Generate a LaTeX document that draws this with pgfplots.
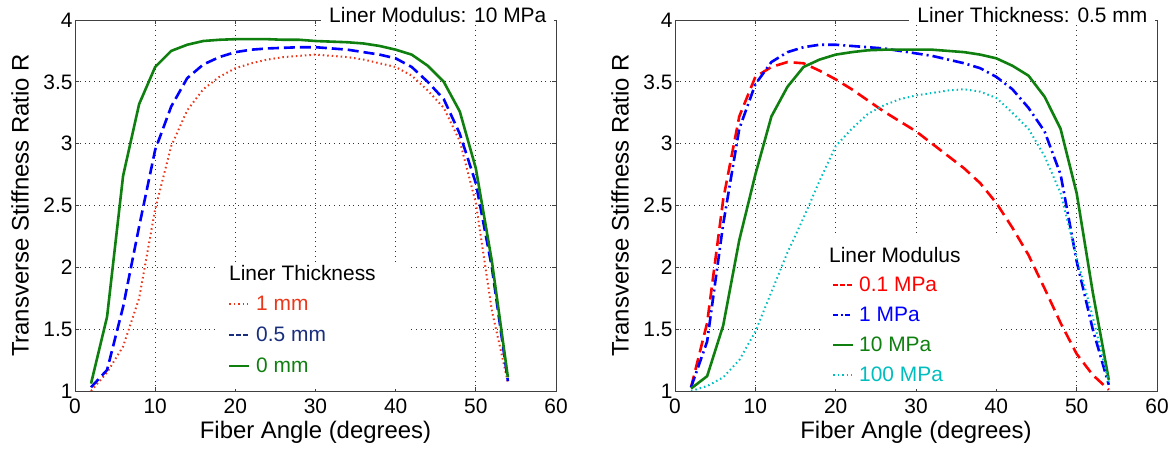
\documentclass[border=0pt]{standalone}
\usepackage{pgfplots}
\pgfplotsset{compat=1.18}
\usepackage{fontspec}
\setmainfont{Liberation Sans}
\definecolor{lred}{RGB}{235,55,25}
\definecolor{lnavy}{RGB}{25,45,125}
\definecolor{mgreen}{RGB}{15,128,15}
\definecolor{mblue}{RGB}{0,0,255}
\definecolor{mcyan}{RGB}{0,190,190}
\definecolor{pred}{RGB}{255,0,0}
\pgfplotsset{
  myaxis/.style={
    scale only axis, width=481bp, height=371bp,
    xmin=0, xmax=60, ymin=1, ymax=4,
    xtick={0,10,20,30,40,50,60}, ytick={1,1.5,2,2.5,3,3.5,4},
    grid=major,
    major grid style={black!80, line width=0.7bp, dash pattern=on 0.8bp off 4bp},
    axis line style={black!75, line width=0.9bp},
    tick align=inside, major tick length=4bp,
    tick style={black!75, line width=0.8bp},
    tick label style={font=\fontsize{21}{25}\selectfont},
    /pgf/number format/assume math mode=true,
    xticklabel style={yshift=-4.5bp},
    yticklabel style={xshift=1bp},
    label style={font=\fontsize{24}{28}\selectfont},
    xlabel={Fiber Angle (degrees)},
    ylabel={Transverse Stiffness Ratio R},
    xlabel style={at={(axis description cs:0.5,-0.1105)}, anchor=center},
    ylabel style={at={(axis description cs:-0.114,0.5)}, anchor=center},
  }
}
\begin{document}
\begin{tikzpicture}
\useasboundingbox (0,0) rectangle (1171bp,449bp);
% ---------------- Left panel ----------------
\begin{axis}[myaxis, at={(75bp,58bp)}, anchor=south west]
\addplot[lred, line width=2bp, dash pattern=on 1.5bp off 3bp] coordinates {
(2,1.00)(4,1.15)(6,1.36)(8,1.75)(10,2.47)(12,2.98)(14,3.27)(16,3.44)(18,3.54)(20,3.61)
(22,3.65)(24,3.68)(26,3.70)(28,3.71)(30,3.72)(32,3.71)(34,3.70)(36,3.68)(38,3.65)(40,3.62)
(42,3.55)(44,3.43)(46,3.29)(48,3.02)(50,2.52)(52,1.65)(54,1.07)};
\addplot[mblue, line width=2.6bp, dash pattern=on 11bp off 5bp] coordinates {
(2,1.03)(4,1.17)(6,1.68)(8,2.33)(10,2.95)(12,3.30)(14,3.53)(16,3.64)(18,3.70)(20,3.74)
(22,3.76)(24,3.77)(26,3.775)(28,3.78)(30,3.78)(32,3.77)(34,3.76)(36,3.74)(38,3.72)(40,3.69)
(42,3.62)(44,3.50)(46,3.36)(48,3.08)(50,2.68)(52,2.00)(54,1.08)};
\addplot[mgreen, line width=2.6bp] coordinates {
(2,1.06)(4,1.60)(6,2.74)(8,3.32)(10,3.62)(12,3.75)(14,3.80)(16,3.83)(18,3.84)(20,3.845)
(22,3.845)(24,3.845)(26,3.84)(28,3.84)(30,3.83)(32,3.825)(34,3.82)(36,3.81)(38,3.79)(40,3.76)
(42,3.72)(44,3.63)(46,3.50)(48,3.26)(50,2.80)(52,2.05)(54,1.11)};
\end{axis}
% ---------------- Right panel ----------------
\begin{axis}[myaxis, at={(675bp,58bp)}, anchor=south west, width=482bp]
\addplot[pred, line width=2.6bp, dash pattern=on 12bp off 6bp] coordinates {
(2,1.03)(4,1.55)(6,2.55)(8,3.22)(10,3.54)(12,3.62)(14,3.66)(16,3.65)(18,3.59)(20,3.52)
(22,3.44)(24,3.35)(26,3.26)(28,3.18)(30,3.10)(32,3.00)(34,2.90)(36,2.80)(38,2.68)(40,2.52)
(42,2.32)(44,2.10)(46,1.83)(48,1.55)(50,1.30)(52,1.13)(54,1.01)};
\addplot[mblue, line width=2.6bp, dash pattern=on 11bp off 4bp on 2bp off 4bp] coordinates {
(2,1.03)(4,1.40)(6,2.35)(8,3.12)(10,3.48)(12,3.66)(14,3.74)(16,3.78)(18,3.80)(20,3.80)
(22,3.79)(24,3.78)(26,3.77)(28,3.75)(30,3.73)(32,3.71)(34,3.68)(36,3.65)(38,3.61)(40,3.54)
(42,3.44)(44,3.29)(46,3.10)(48,2.75)(50,2.05)(52,1.50)(54,1.05)};
\addplot[mgreen, line width=2.6bp] coordinates {
(2,1.02)(4,1.12)(6,1.53)(8,2.22)(10,2.75)(12,3.22)(14,3.46)(16,3.62)(18,3.68)(20,3.72)
(22,3.74)(24,3.755)(26,3.76)(28,3.76)(30,3.76)(32,3.76)(34,3.75)(36,3.74)(38,3.72)(40,3.69)
(42,3.63)(44,3.55)(46,3.38)(48,3.12)(50,2.60)(52,1.80)(54,1.09)};
\addplot[mcyan, line width=2bp, dash pattern=on 1.5bp off 3bp] coordinates {
(2,1.00)(4,1.04)(6,1.11)(8,1.25)(10,1.48)(12,1.80)(14,2.12)(16,2.40)(18,2.70)(20,2.98)
(22,3.12)(24,3.24)(26,3.31)(28,3.36)(30,3.39)(32,3.41)(34,3.43)(36,3.44)(38,3.42)(40,3.37)
(42,3.25)(44,3.12)(46,2.90)(48,2.60)(50,2.08)(52,1.60)(54,1.07)};
\end{axis}
% ---------------- titles ----------------
\node[fill=white, anchor=base east, inner xsep=8bp, inner ysep=2bp, font=\fontsize{21}{25}\selectfont]
  at (554.5bp,426bp) {Liner Modulus: 10 MPa\hspace{7bp}};
\node[fill=white, anchor=base east, inner xsep=8bp, inner ysep=2bp, font=\fontsize{21}{25}\selectfont]
  at (1155.5bp,426bp) {Liner Thickness: 0.5 mm\hspace{7bp}};
% ---------------- left legend ----------------
\fill[white] (217bp,59.5bp) rectangle (410bp,187bp);
\begin{scope}[font=\fontsize{21}{25}\selectfont]
\node[anchor=base west, inner sep=0pt] at (229bp,168bp) {Liner Thickness};
\draw[lred, line width=2bp, dash pattern=on 1.5bp off 3bp] (229bp,145bp) -- (248bp,145bp);
\node[anchor=base west, inner sep=0pt, text=lred] at (256bp,138bp) {1 mm};
\draw[lnavy, line width=2bp, dash pattern=on 5bp off 2bp] (229bp,114bp) -- (248bp,114bp);
\node[anchor=base west, inner sep=0pt, text=lnavy] at (256bp,107bp) {0.5 mm};
\draw[mgreen, line width=2bp] (229bp,83bp) -- (249bp,83bp);
\node[anchor=base west, inner sep=0pt, text=mgreen] at (256bp,76bp) {0 mm};
\end{scope}
% ---------------- right legend ----------------
\fill[white] (820bp,59.5bp) rectangle (1001bp,215bp);
\begin{scope}[font=\fontsize{21}{25}\selectfont]
\node[anchor=base west, inner sep=0pt] at (829bp,186bp) {Liner Modulus};
\draw[pred, line width=2bp, dash pattern=on 5bp off 2bp] (833bp,164bp) -- (852bp,164bp);
\node[anchor=base west, inner sep=0pt, text=pred] at (859bp,157bp) {0.1 MPa};
\draw[mblue, line width=2bp, dash pattern=on 5bp off 2.5bp on 2bp off 2.5bp] (833bp,134bp) -- (852bp,134bp);
\node[anchor=base west, inner sep=0pt, text=mblue] at (859bp,127bp) {1 MPa};
\draw[mgreen, line width=2bp] (833bp,104bp) -- (853bp,104bp);
\node[anchor=base west, inner sep=0pt, text=mgreen] at (859bp,97bp) {10 MPa};
\draw[mcyan, line width=2bp, dash pattern=on 1.5bp off 3bp] (833bp,74bp) -- (852bp,74bp);
\node[anchor=base west, inner sep=0pt, text=mcyan] at (859bp,67bp) {100 MPa};
\end{scope}
\end{tikzpicture}
\end{document}
